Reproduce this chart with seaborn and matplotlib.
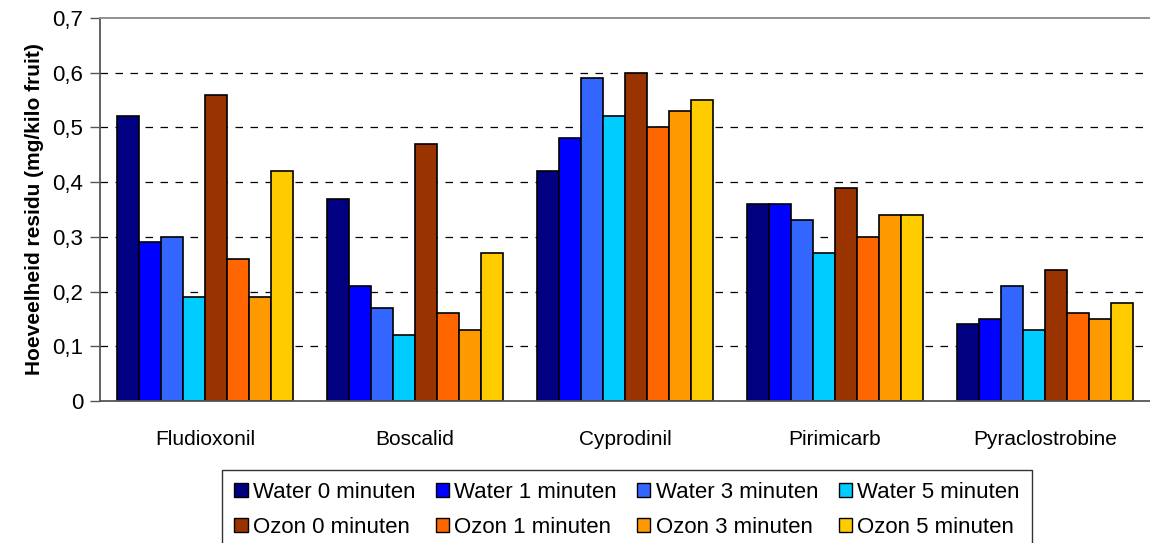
import matplotlib
matplotlib.use("Agg")
import matplotlib.pyplot as plt
import seaborn as sns
import pandas as pd
from matplotlib.patches import Patch
from matplotlib.ticker import FuncFormatter

categories = ["Fludioxonil", "Boscalid", "Cyprodinil", "Pirimicarb", "Pyraclostrobine"]
series = ["Water 0 minuten", "Water 1 minuten", "Water 3 minuten", "Water 5 minuten",
          "Ozon 0 minuten", "Ozon 1 minuten", "Ozon 3 minuten", "Ozon 5 minuten"]
water0 = [0.52, 0.37, 0.42, 0.36, 0.14]
water1 = [0.29, 0.21, 0.48, 0.36, 0.15]
water3 = [0.30, 0.17, 0.59, 0.33, 0.21]
water5 = [0.19, 0.12, 0.52, 0.27, 0.13]
ozon0 = [0.56, 0.47, 0.60, 0.39, 0.24]
ozon1 = [0.26, 0.16, 0.50, 0.30, 0.16]
ozon3 = [0.19, 0.13, 0.53, 0.34, 0.15]
ozon5 = [0.42, 0.27, 0.55, 0.34, 0.18]
colors = ["#000080", "#0000FF", "#3366FF", "#00CCFF", "#993300", "#FF6600", "#FF9900", "#FFCC00"]

values = [water0, water1, water3, water5, ozon0, ozon1, ozon3, ozon5]
rows = []
for s, vals in zip(series, values):
    for c, v in zip(categories, vals):
        rows.append({"cat": c, "series": s, "val": v})
df = pd.DataFrame(rows)

sns.set_style("white")
plt.rcParams["font.family"] = ["Liberation Sans", "DejaVu Sans"]
plt.rcParams["text.color"] = "black"
plt.rcParams["xtick.color"] = "black"
plt.rcParams["ytick.color"] = "black"

fig = plt.figure(figsize=(11.5, 5.43), dpi=100)
ax = fig.add_axes([100/1150, 1-401/543, 1-100/1150, (401-18)/543])

sns.barplot(data=df, x="cat", y="val", hue="series", order=categories, hue_order=series,
            palette=colors, saturation=1, width=0.84, edgecolor="black", linewidth=1.2, ax=ax,
            errorbar=None, legend=False)

ax.set_ylim(0, 0.7)
ax.set_xlim(-0.5, 4.5)
ax.set_yticks([0, 0.1, 0.2, 0.3, 0.4, 0.5, 0.6, 0.7])
ax.yaxis.set_major_formatter(FuncFormatter(lambda v, p: ("%g" % round(v, 1)).replace(".", ",")))
for y in [0.1, 0.2, 0.3, 0.4, 0.5, 0.6]:
    ax.axhline(y, color="black", linestyle=(0, (6, 6)), linewidth=0.9, zorder=0)
ax.set_axisbelow(True)

ax.set_xticks(range(5))
ax.set_xticklabels(categories)
ax.set_xticks([i - 0.5 for i in range(6)], minor=True)
ax.tick_params(axis="x", which="major", length=0, pad=21, labelsize=15, labelcolor="black")
ax.tick_params(axis="x", which="minor", length=6, color="#555555", width=1)
ax.tick_params(axis="y", which="major", length=7, color="#555555", width=1, labelsize=16,
               left=True, labelcolor="black", pad=5)

for sp in ["left", "bottom"]:
    ax.spines[sp].set_color("#555555")
    ax.spines[sp].set_linewidth(1.3)
ax.spines["top"].set_color("#888888")
ax.spines["top"].set_linewidth(1.3)
ax.spines["right"].set_visible(False)

ax.set_xlabel("")
ax.set_ylabel("Hoeveelheid residu (mg/kilo fruit)", fontsize=15, fontweight="bold",
              color="black", labelpad=6)

order = [0, 4, 1, 5, 2, 6, 3, 7]
handles = [Patch(facecolor=c, edgecolor="black", linewidth=1) for c in colors]
leg = fig.legend([handles[i] for i in order], [series[i] for i in order], ncol=4,
                 loc="upper left", bbox_to_anchor=(222/1150, 1-470/543), borderaxespad=0,
                 frameon=True, fontsize=16, handlelength=0.6, handleheight=0.6, handletextpad=0.25,
                 columnspacing=0.9, borderpad=0.55, labelspacing=0.6, fancybox=False)
leg.get_frame().set_edgecolor("black")
leg.get_frame().set_linewidth(1)

fig.savefig("out.png", dpi=100)
